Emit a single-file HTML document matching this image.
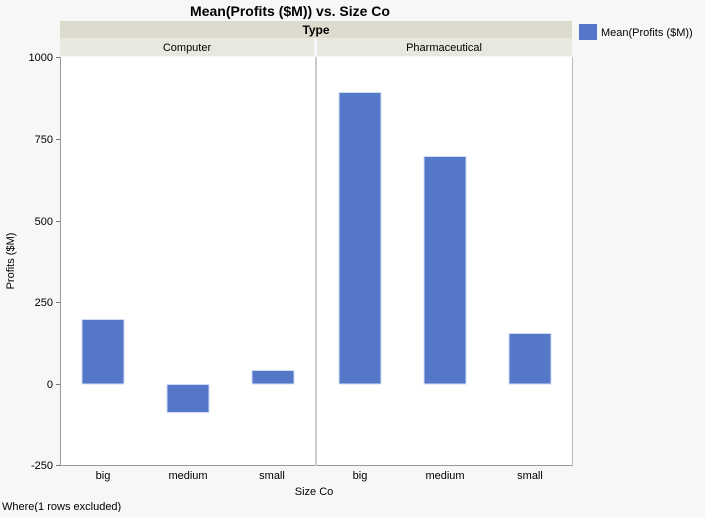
<!DOCTYPE html><html><head><style>
body{margin:0;width:705px;height:512px;background:#f7f7f7;font-family:"Liberation Sans",sans-serif;overflow:hidden}
</style></head><body>
<svg width="705" height="512" xmlns="http://www.w3.org/2000/svg" font-family="Liberation Sans, sans-serif">
<text x="290" y="16" font-size="14" font-weight="bold" text-anchor="middle" fill="#000">Mean(Profits ($M)) vs. Size Co</text>
<rect x="60" y="21" width="512" height="17" fill="#dcdbcd"/>
<text x="316" y="34" font-size="12" font-weight="bold" text-anchor="middle">Type</text>
<rect x="60" y="38" width="254" height="18" fill="#e8e8df"/>
<rect x="317" y="38" width="255" height="18" fill="#e8e8df"/>
<text x="187" y="51" font-size="11" text-anchor="middle">Computer</text>
<text x="444" y="51" font-size="11" text-anchor="middle">Pharmaceutical</text>
<rect x="60" y="57" width="512" height="408" fill="#fff"/>
<line x1="60.5" y1="57" x2="60.5" y2="465" stroke="#999"/>
<line x1="60" y1="465.5" x2="572" y2="465.5" stroke="#999"/>
<line x1="572.5" y1="57" x2="572.5" y2="466" stroke="#bbb"/>
<line x1="316" y1="57" x2="316" y2="466" stroke="#ccc" stroke-width="2"/>
<g stroke="#777"><line x1="56" y1="57.5" x2="60" y2="57.5"/><line x1="56" y1="139.5" x2="60" y2="139.5"/><line x1="56" y1="221.5" x2="60" y2="221.5"/><line x1="56" y1="302.5" x2="60" y2="302.5"/><line x1="56" y1="384.5" x2="60" y2="384.5"/><line x1="56" y1="465.5" x2="60" y2="465.5"/></g>
<g font-size="11" text-anchor="end"><text x="53" y="61">1000</text><text x="53" y="143">750</text><text x="53" y="225">500</text><text x="53" y="306">250</text><text x="53" y="388">0</text><text x="53" y="469">-250</text></g>
<text transform="translate(14,261) rotate(-90)" font-size="11" text-anchor="middle">Profits ($M)</text>
<g fill="#5477c8" stroke="#d0dcf3" stroke-width="1">
<rect x="82" y="319.5" width="42" height="64.5"/>
<rect x="167" y="384.5" width="42" height="28"/>
<rect x="252" y="370.5" width="42" height="13.5"/>
<rect x="339" y="92.5" width="42" height="291.5"/>
<rect x="424" y="156.5" width="42" height="227.5"/>
<rect x="509" y="333.5" width="42" height="50.5"/>
</g>
<g font-size="11" text-anchor="middle"><text x="103" y="479">big</text><text x="188" y="479">medium</text><text x="272" y="479">small</text><text x="360" y="479">big</text><text x="445" y="479">medium</text><text x="530" y="479">small</text></g>
<text x="314" y="495" font-size="11" text-anchor="middle">Size Co</text>
<text x="2" y="510" font-size="11">Where(1 rows excluded)</text>
<rect x="579" y="24" width="18" height="16" fill="#5477c8"/>
<text x="601" y="36" font-size="11">Mean(Profits ($M))</text>
</svg>
</body></html>
